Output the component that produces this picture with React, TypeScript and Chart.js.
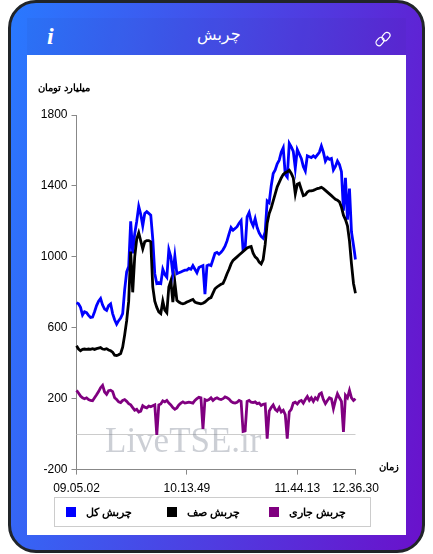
import { useEffect, useRef } from "react"
import { Chart, registerables } from "chart.js"

Chart.register(...registerables)

const tickIndexes = [0, 55, 110, 139]
const tickLabels = ["09.05.02", "10.13.49", "11.44.13", "12.36.30"]
const yTicks = [-200, 200, 600, 1000, 1400, 1800]
const seriesNames = ["چربش کل", "چربش صف", "چربش جاری"]
const seriesColors = ["#0000ff", "#000000", "#800080"]

const totalValues = [
  741, 735, 715, 672, 690, 685, 670, 658, 660, 690, 725, 750, 765, 728, 705, 698, 725, 735, 680, 645,
  620, 640, 655, 680, 815, 915, 945, 1200, 1020, 1130, 1200, 1285, 1240, 1175, 1245, 1255, 1245, 1235, 1100, 905,
  850, 855, 850, 930, 900, 885, 1040, 1000, 905, 1005, 905, 910, 915, 920, 925, 925, 935, 930, 950, 930,
  910, 940, 945, 950, 790, 950, 955, 950, 985, 1020, 1025, 1015, 1025, 1040, 1060, 1090, 1130, 1165, 1150, 1160,
  1170, 1190, 1205, 1035, 1045, 1225, 1250, 1200, 1175, 1215, 1165, 1135, 1115, 1105, 1140, 1315, 1305, 1400, 1470, 1490,
  1525, 1545, 1590, 1615, 1465, 1450, 1640, 1620, 1595, 1500, 1605, 1580, 1555, 1510, 1485, 1570, 1565, 1560, 1570, 1560,
  1575, 1590, 1625, 1590, 1540, 1560, 1550, 1555, 1490, 1510, 1540, 1520, 1480, 1260, 1445, 1210, 1385, 1140, 1065, 985,
]

const queueValues = [
  498, 480, 470, 478, 480, 478, 480, 478, 482, 478, 482, 485, 488, 480, 478, 482, 475, 470, 462, 445,
  443, 448, 455, 490, 560, 640, 750, 1030, 800, 1000, 1100, 1135, 1090, 1045, 1085, 1092, 1092, 1085, 830, 750,
  715, 690, 680, 750, 700, 685, 830, 865, 745, 855, 755, 745, 738, 735, 738, 745, 750, 755, 760, 745,
  740, 738, 735, 738, 745, 755, 765, 770, 795, 820, 830, 838, 845, 850, 875, 905, 930, 960, 980, 990,
  1000, 1010, 1020, 1030, 1040, 1050, 1055, 1058, 1020, 1000, 990, 970, 960, 985, 1070, 1190, 1245, 1275, 1315, 1355,
  1395, 1420, 1445, 1465, 1475, 1480, 1488, 1470, 1445, 1355, 1410, 1415, 1380, 1345, 1350, 1365, 1372, 1372, 1375, 1380,
  1385, 1388, 1392, 1385, 1375, 1365, 1355, 1345, 1335, 1325, 1320, 1310, 1280, 1235, 1210, 1175, 1090, 960, 850, 795,
]

const currentValues = [
  247, 232, 215, 205, 200, 205, 195, 190, 188, 205, 222, 240, 262, 275, 238, 225, 245, 248, 240, 205,
  195, 182, 178, 190, 195, 185, 172, 165, 150, 135, 140, 125, 130, 160, 152, 148, 158, 155, 160, 165,
  -5, 165, 170, 188, 182, 190, 175, 165, 150, 140, 148, 165, 175, 182, 175, 178, 180, 178, 175, 190,
  200, 208, 205, 30, 195, 190, 195, 205, 190, 200, 205, 198, 195, 200, 210, 205, 198, 185, 178, 175,
  180, 190, 185, 15, 18, 185, 190, 180, 178, 182, 172, 175, 162, 168, 170, -25, 130, 150, 165, 140,
  130, 150, 125, 135, 110, -25, 125, 140, 175, 180, 170, 185, 190, 175, 195, 212, 190, 205, 185, 205,
  195, 225, 232, 195, 172, 190, 205, 200, 144, 190, 228, 205, 185, 12, 219, 205, 247, 205, 190, 200,
]

const pointLabels = totalValues.map((_, i) => {
  const at = tickIndexes.indexOf(i)
  return at >= 0 ? tickLabels[at] : ""
})

const arabicFont = '"Liberation Sans", sans-serif'

const decorations = {
  id: "decorations",
  beforeDatasetsDraw(chart: any) {
    const { ctx, chartArea, scales } = chart
    const zero = scales.y.getPixelForValue(0)
    ctx.save()
    ctx.strokeStyle = "#cccccc"
    ctx.lineWidth = 1
    ctx.beginPath()
    ctx.moveTo(chartArea.left, Math.round(zero) + 0.5)
    ctx.lineTo(chartArea.right, Math.round(zero) + 0.5)
    ctx.stroke()
    ctx.fillStyle = "rgba(120, 130, 145, 0.38)"
    ctx.font = '35px "Liberation Serif"'
    ctx.textBaseline = "alphabetic"
    ctx.fillText("LiveTSE.ir", 78, 397)
    ctx.restore()
  },
  afterDraw(chart: any) {
    const { ctx } = chart
    ctx.save()
    ctx.fillStyle = "#000"
    ctx.font = `bold 10px ${arabicFont}`
    ctx.textBaseline = "middle"
    ctx.direction = "rtl"
    ctx.textAlign = "right"
    ctx.fillText("میلیارد تومان", 63, 33)
    ctx.fillText("زمان", 372, 412)
    ctx.restore()
  },
}

export default function App() {
  const canvasRef = useRef<HTMLCanvasElement>(null)

  useEffect(() => {
    document.body.style.margin = "0"
    if (!canvasRef.current) return
    const chart = new Chart(canvasRef.current, {
      type: "line",
      data: {
        labels: pointLabels,
        datasets: [
          { label: seriesNames[0], data: totalValues, borderColor: seriesColors[0], order: 2 },
          { label: seriesNames[1], data: queueValues, borderColor: seriesColors[1], order: 1 },
          { label: seriesNames[2], data: currentValues, borderColor: seriesColors[2], order: 0 },
        ],
      },
      options: {
        responsive: false,
        animation: false,
        layout: { padding: { left: 0, right: 50.5, top: 60, bottom: 32 } },
        elements: {
          point: { radius: 0 },
          line: { borderWidth: 2.8, tension: 0 },
        },
        plugins: {
          tooltip: { enabled: false },
          legend: { display: false },
        },
        scales: {
          x: {
            type: "category",
            offset: false,
            grid: { drawOnChartArea: false, tickLength: 5, tickColor: "#888888" },
            border: { color: "#888888" },
            afterBuildTicks(scale: any) {
              scale.ticks = tickIndexes.map((value) => ({ value }))
            },
            ticks: {
              autoSkip: false,
              maxRotation: 0,
              padding: 7,
              color: "#000",
              font: { family: "Liberation Sans", size: 12 },
            },
          },
          y: {
            min: -200,
            max: 1800,
            grid: { drawOnChartArea: false, tickLength: 5, tickColor: "#888888" },
            border: { color: "#888888" },
            afterBuildTicks(scale: any) {
              scale.ticks = yTicks.map((value) => ({ value }))
            },
            afterFit(scale: any) {
              scale.width = 49.5
            },
            ticks: {
              padding: 4,
              color: "#000",
              font: { family: "Liberation Sans", size: 12 },
              callback: (value: any) => String(value),
            },
          },
        },
      },
      plugins: [decorations],
    })
    return () => chart.destroy()
  }, [])

  return (
    <div
      style={{
        position: "relative",
        boxSizing: "border-box",
        width: 417,
        height: 553,
        marginLeft: 8,
        border: "3px solid #212529",
        borderRadius: 28,
        background: "linear-gradient(100deg, #2979ff 0%, #6a11cb 100%)",
      }}
    >
      <div
        style={{
          position: "absolute",
          left: 16,
          top: 15,
          width: 379,
          height: 37,
          color: "#fff",
          fontFamily: "DejaVu Sans",
          background: "rgba(30, 30, 90, 0.05)",
        }}
      >
        <span style={{ position: "absolute", left: 20, top: 5, fontFamily: "Liberation Serif", fontSize: 24, fontStyle: "italic", fontWeight: "bold" }}>i</span>
        <span dir="rtl" style={{ position: "absolute", left: 170, top: 7, fontSize: 16 }}>چربش</span>
      </div>
      <svg style={{ position: "absolute", left: 364, top: 28 }} width="16" height="16" viewBox="0 0 16 16" fill="none" stroke="#fff" strokeWidth="1.2">
        <rect x="8" y="1" width="6" height="9" rx="3" transform="rotate(40 11 5.5)" />
        <rect x="2" y="6" width="6" height="9" rx="3" transform="rotate(40 5 10.5)" />
      </svg>
      <canvas ref={canvasRef} width={379} height={480} style={{ position: "absolute", left: 16, top: 52, background: "#fff", display: "block" }} />
      <div
        style={{
          position: "absolute",
          left: 43,
          top: 494,
          width: 317,
          height: 30,
          boxSizing: "border-box",
          border: "1px solid #cccccc",
          display: "flex",
          alignItems: "center",
          paddingLeft: 11,
          fontFamily: arabicFont,
          fontWeight: "bold",
          fontSize: 11,
          color: "#000",
        }}
      >
        {seriesNames.map((name, i) => (
          <div key={name} style={{ display: "flex", alignItems: "center", width: 104.5 }}>
            <span style={{ width: 10, height: 10, marginRight: 10, background: seriesColors[i] }} />
            <span dir="rtl">{name}</span>
          </div>
        ))}
      </div>
    </div>
  )
}
